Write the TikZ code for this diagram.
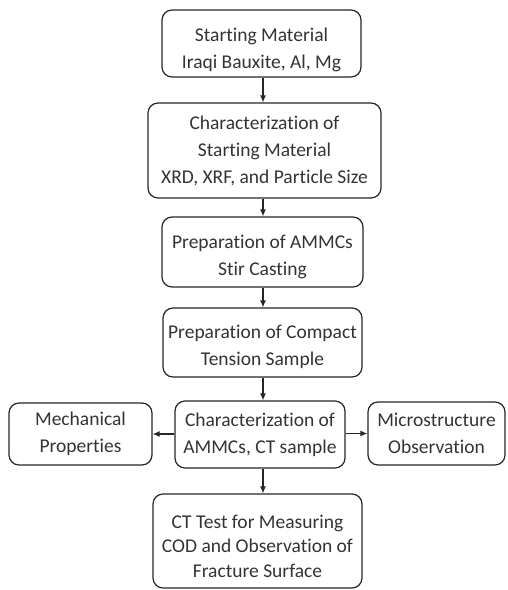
\documentclass[tikz,border=0pt]{standalone}
\usepackage{fontspec}
\setmainfont{Carlito}[Ligatures={NoCommon}]
\usetikzlibrary{arrows.meta}
\newcommand{\dropby}[1]{\rule{0pt}{#1}}
\begin{document}
\begin{tikzpicture}[x=1pt,y=-1pt,
  box/.style={draw=black!85, line width=1.2pt, rounded corners=10pt, inner sep=0pt,
    align=center, text=black!80, font=\fontsize{19.5}{27}\selectfont},
  arr/.style={draw=black!85, line width=1.2pt, -{Latex[length=7pt,width=6pt]}}]
\useasboundingbox (0,0) rectangle (507,590);
\node[box, minimum width=199pt, minimum height=67pt] (b1) at (261.5,43.5) {\dropby{26pt}Starting Material\\Iraqi Bauxite, Al, Mg};
\node[box, minimum width=233pt, minimum height=95pt] (b2) at (264.5,150.5) {Characterization of\\Starting Material\\XRD, XRF, and Particle Size};
\node[box, minimum width=201pt, minimum height=70pt] (b3) at (262.5,252) {\dropby{23pt}Preparation of AMMCs\\Stir Casting};
\node[box, minimum width=199pt, minimum height=69pt] (b4) at (262.5,342.5) {\dropby{23pt}Preparation of Compact\\Tension Sample};
\node[box, minimum width=170pt, minimum height=67pt] (b5) at (260,434.5) {Characterization of\\AMMCs, CT sample};
\node[box, minimum width=143pt, minimum height=62pt] (bl) at (80.5,434) {Mechanical\\Properties};
\node[box, minimum width=137pt, minimum height=63pt] (br) at (436.5,433.5) {Microstructure\\Observation};
\node[box, minimum width=209pt, minimum height=94pt, font=\fontsize{19.5}{24.5}\selectfont] (b6) at (257.5,541) {\dropby{24pt}CT Test for Measuring\\COD and Observation of\\Fracture Surface};
\draw[arr] (b1.south -| 263,0) -- (b2.north -| 263,0);
\draw[arr] (b2.south -| 263,0) -- (b3.north -| 263,0);
\draw[arr] (b3.south -| 263,0) -- (b4.north -| 263,0);
\draw[arr] (b4.south -| 263,0) -- (b5.north -| 263,0);
\draw[arr] (b5.south -| 263,0) -- (b6.north -| 263,0);
\draw[arr] (b5.west |- 0,434) -- (bl.east |- 0,434);
\draw[arr] (b5.east |- 0,433.5) -- (br.west |- 0,433.5);
\end{tikzpicture}
\end{document}
